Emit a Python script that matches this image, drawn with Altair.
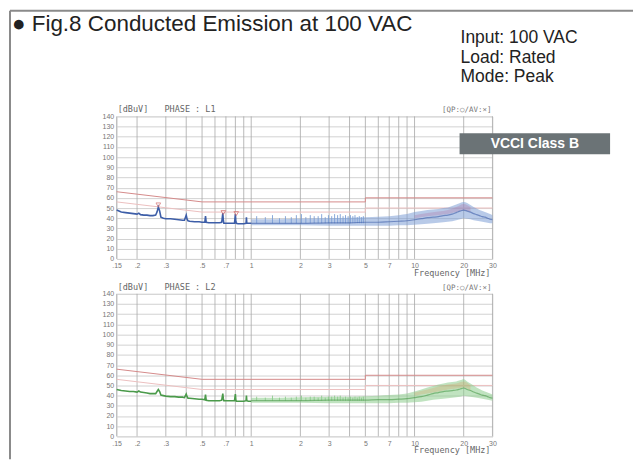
import altair as alt
import pandas as pd

# ---------------- data ----------------
grid_freqs = [0.15, 0.2, 0.3, 0.4, 0.5, 0.6, 0.7, 0.8, 0.9, 1, 2, 3, 4, 5, 6, 7, 8, 9, 10, 20, 30]
tick_freqs = [0.15, 0.2, 0.3, 0.5, 0.7, 1, 2, 3, 5, 7, 10, 20, 30]
level_ticks = [0, 10, 20, 30, 40, 50, 60, 70, 80, 90, 100, 110, 120, 130, 140]

qp_freq = [0.15, 0.5, 5, 5, 30]
qp_level = [66, 56, 56, 60, 60]
av_freq = [0.15, 0.5, 5, 5, 30]
av_level = [56, 46, 46, 50, 50]

trace_freq = [0.15, 0.155, 0.16, 0.17, 0.18, 0.19, 0.2, 0.205, 0.21, 0.22, 0.23, 0.24, 0.25,
              0.26, 0.265, 0.27, 0.275, 0.28, 0.29, 0.3, 0.32, 0.34, 0.36, 0.38, 0.39, 0.4,
              0.405, 0.41, 0.42, 0.45, 0.48, 0.5, 0.52, 0.525, 0.53, 0.55, 0.58, 0.61, 0.64,
              0.66, 0.67, 0.675, 0.68, 0.7, 0.73, 0.76, 0.79, 0.80, 0.805, 0.81, 0.83, 0.86,
              0.9, 0.93, 0.935, 0.94, 0.96, 1.0]
l1_level = [48, 47, 46, 45.5, 45, 44.5, 44, 45, 43.5, 43, 43, 42.5, 42.5,
            43, 46, 51, 47, 41, 40, 39.5, 39.5, 39, 38.5, 38, 38, 43,
            39, 37.5, 37, 36.5, 36.5, 36, 36, 42, 36, 35.5, 35.5, 35.5, 35.5,
            36, 45, 38, 35, 35, 35, 35, 35, 44, 37, 35, 34.5, 34.5,
            34.5, 35, 41, 35, 35, 35]
l2_level = [46, 45.5, 45, 44.5, 44, 44, 43.5, 44.5, 43.5, 43, 42.5, 42, 42,
            42, 44, 46, 44, 40.5, 40, 39.5, 39, 39, 38.5, 38.5, 38, 41.5,
            39, 37.5, 37.5, 37, 36.5, 36.5, 36, 41, 35.5, 35, 35, 35, 35,
            35.5, 42, 37, 35, 35, 35, 35, 35, 41.5, 36, 34.5, 34.5, 34.5,
            34.5, 35, 40, 35, 34.5, 34.5]

band_freq = [1, 1.5, 2, 3, 4, 5, 6, 7, 8, 9, 10, 11, 12, 13, 14, 15, 16, 17, 18, 19, 20,
             21, 22, 23, 24, 25, 26, 27, 28, 29, 30]
l1_low = [33, 33, 33, 32.5, 32.5, 32.5, 32.5, 32.5, 33, 33, 33.5, 34, 34.5, 35, 35.5, 36, 36.5, 37, 38, 39, 40,
          39.5, 39, 38, 37.5, 37, 36.5, 36, 35.5, 35, 35]
l1_high = [39, 39, 39.5, 40, 40.5, 41, 41.5, 42, 43, 44, 46, 47, 48, 48.5, 49, 50, 50.5, 52, 53.5, 55, 56,
           55, 53, 51, 49.5, 48, 47, 46, 45, 44, 43]
l1_mid = [35, 35, 35, 35.5, 35.5, 36, 36, 36.5, 37, 37.5, 38.5, 39.5, 40.5, 41, 41.5, 42.5, 43, 44, 45.5, 47, 48,
          47, 46, 44.5, 43.5, 42.5, 41.5, 41, 40, 39, 38.5]
l2_low = [33, 33, 33, 32.5, 32.5, 32.5, 32.5, 32.5, 33, 33, 33.5, 34, 35, 36, 36.5, 37, 37.5, 38, 38.5, 39, 40,
          39.5, 39, 38.5, 38, 37.5, 37, 36.5, 36, 35.5, 35]
l2_high = [38, 38, 38.5, 39, 39, 39.5, 40, 40.5, 41, 42, 44, 46, 48, 49.5, 51, 52, 53, 53.5, 54, 55, 56,
           54, 52, 50, 48, 46.5, 45, 44, 43, 42, 41]
l2_mid = [35, 35, 35, 35.5, 35.5, 35.5, 36, 36, 36.5, 37, 38, 39, 40.5, 42, 43, 44, 44.5, 45, 45.5, 46.5, 47.5,
          46, 45, 43.5, 42.5, 41.5, 40.5, 40, 39, 38, 37.5]

spike_freq = [1.08, 1.22, 1.35, 1.49, 1.62, 1.76, 1.89, 2.03, 2.16, 2.3, 2.43, 2.57, 2.7, 2.84, 2.97,
              3.11, 3.24, 3.38, 3.51, 3.65, 3.78, 3.92, 4.05, 4.19, 4.32, 4.46, 4.59, 4.73, 4.86]
l1_spike_top = [42, 41, 43, 40, 42, 41, 43, 44, 41, 43, 42, 42, 44, 41, 43,
                42, 44, 43, 44, 42, 43, 42, 43, 42, 43, 41, 42, 41, 42]
l2_spike_top = [39, 38, 40, 38, 39, 38, 39, 40, 38, 39, 39, 38, 40, 38, 39,
                39, 40, 39, 40, 38, 39, 38, 39, 38, 39, 38, 39, 38, 39]

l1_mark_freq = [0.27, 0.675, 0.81]
l1_mark_level = [53, 45.5, 44.5]

qp_band_freq = [10, 12, 14, 16, 18, 20, 22]
l1_qp_low = [40, 42, 43, 44, 46, 48, 46]
l1_qp_high = [43, 45, 46.5, 48, 51, 54, 51]
l2_qp_low = [40, 42, 44, 46, 47, 48, 45]
l2_qp_high = [43, 46, 49, 51, 52, 54, 50]

# ---------------- helpers ----------------
W, H = 377, 143
XS = alt.Scale(type="log", domain=[0.15, 30], nice=False)
YS = alt.Scale(domain=[0, 140], nice=False)
FONT = "Liberation Sans"
MONO = "DejaVu Sans Mono"

x_axis = alt.Axis(values=tick_freqs, grid=False, ticks=False, domain=False,
                  labelExpr="datum.value < 1 ? replace('' + datum.value, '0.', '.') : '' + datum.value",
                  labelFontSize=7, labelColor="#777", labelPadding=3, labelFont=FONT,
                  labelFlush=False, labelOverlap=False, title=None)
y_axis = alt.Axis(values=level_ticks, grid=True, gridColor="#d2d2d2", ticks=False, domain=False,
                  labelFontSize=7, labelColor="#777", labelPadding=3, labelFont=FONT, title=None)


def X(field):
    return alt.X(field, type="quantitative", scale=XS, axis=x_axis)


def Y(field):
    return alt.Y(field, type="quantitative", scale=YS, axis=y_axis)


def text_layer(txt, x, y, size, color="#555", font=FONT, align="left", weight="normal", baseline="alphabetic"):
    return alt.Chart(pd.DataFrame({"t": [txt]})).mark_text(
        align=align, baseline=baseline, fontSize=size, font=font, color=color, fontWeight=weight
    ).encode(x=alt.value(x), y=alt.value(y), text="t:N")


def panel(trace_v, low, high, mid, spike_top, qp_low, qp_high, marks, line_c, fill_c, qp_c, phase, extra):
    grid = alt.Chart(pd.DataFrame({"f": grid_freqs})).mark_rule(color="#a8a8a8", strokeWidth=0.8).encode(
        x=X("f")
    )
    ygrid = alt.Chart(pd.DataFrame({"v": level_ticks})).mark_rule(opacity=0).encode(y=Y("v"))
    qp = alt.Chart(pd.DataFrame({"f": qp_freq, "v": qp_level})).mark_line(color="#d58b8b", strokeWidth=1).encode(
        x=X("f"), y=Y("v")
    )
    av = alt.Chart(pd.DataFrame({"f": av_freq, "v": av_level})).mark_line(color="#ecc0c0", strokeWidth=1).encode(
        x=X("f"), y=Y("v")
    )
    band = alt.Chart(pd.DataFrame({"f": band_freq, "lo": low, "hi": high})).mark_area(
        color=fill_c, opacity=0.55, interpolate="monotone"
    ).encode(x=X("f"), y=Y("lo"), y2="hi:Q")
    qpband = alt.Chart(pd.DataFrame({"f": qp_band_freq, "lo": qp_low, "hi": qp_high})).mark_area(
        color=qp_c, opacity=0.35, interpolate="monotone"
    ).encode(x=X("f"), y=Y("lo"), y2="hi:Q")
    midl = alt.Chart(pd.DataFrame({"f": band_freq, "v": mid})).mark_line(
        color=line_c, strokeWidth=1.2, opacity=0.6, interpolate="monotone"
    ).encode(x=X("f"), y=Y("v"))
    spikes = alt.Chart(pd.DataFrame({"f": spike_freq, "v": spike_top})).mark_rule(
        color=fill_c, strokeWidth=1, opacity=0.9
    ).encode(x=X("f"), y=Y("v"), y2=alt.datum(35))
    trace = alt.Chart(pd.DataFrame({"f": trace_freq, "v": trace_v})).mark_line(
        color=line_c, strokeWidth=1.6
    ).encode(x=X("f"), y=Y("v"))
    layers = [grid, ygrid, qp, av, band, qpband, spikes, midl, trace]
    if marks is not None:
        layers.append(
            alt.Chart(pd.DataFrame({"f": marks[0], "v": marks[1]})).mark_point(
                shape="triangle-down", color="#d46a6a", size=22, filled=False, strokeWidth=1
            ).encode(x=X("f"), y=Y("v"))
        )
    layers += [
        text_layer("[dBuV]", 1, -4, 8.5, font=MONO, color="#666"),
        text_layer("PHASE : " + phase, 48, -4, 8.5, font=MONO, color="#666"),
        text_layer("[QP:○/AV:×]", 376, -4, 7.5, font=MONO, color="#777", align="right"),
        text_layer("Frequency [MHz]", 375, 160, 8.5, font=MONO, color="#666", align="right"),
    ]
    layers += extra
    return alt.layer(*layers).properties(width=W, height=H)


header = [
    alt.Chart(pd.DataFrame({"a": [0]})).mark_rule(color="#8a8a8a", strokeWidth=2).encode(
        x=alt.value(-107), y=alt.value(-106), y2=alt.value(344)
    ),
    alt.Chart(pd.DataFrame({"a": [0]})).mark_rule(color="#8a8a8a", strokeWidth=2).encode(
        x=alt.value(-107), x2=alt.value(518), y=alt.value(-106)
    ),
    text_layer("● Fig.8  Conducted Emission at 100 VAC", -105, -86, 22.5, color="#222"),
    text_layer("Input: 100 VAC", 345, -74, 17.5, color="#222"),
    text_layer("Load: Rated", 345, -54, 17.5, color="#222"),
    text_layer("Mode: Peak", 345, -34, 17.5, color="#222"),
    alt.Chart(pd.DataFrame({"a": [0]})).mark_rect(color="#6b7376").encode(
        x=alt.value(344), x2=alt.value(495), y=alt.value(17), y2=alt.value(38)
    ),
    text_layer("VCCI Class B", 419.5, 28, 14, color="white", align="center", weight="bold", baseline="middle"),
]

top = panel(l1_level, l1_low, l1_high, l1_mid, l1_spike_top, l1_qp_low, l1_qp_high,
            (l1_mark_freq, l1_mark_level), "#3d5ea8", "#7d9fd6", "#b07aa8", "L1", header)
bottom = panel(l2_level, l2_low, l2_high, l2_mid, l2_spike_top, l2_qp_low, l2_qp_high,
               None, "#4a9a4a", "#8dcc8d", "#d0aa70", "L2", [])

chart = alt.vconcat(top, bottom, spacing=35, bounds="flush").properties(padding=0).configure_view(
    stroke="#9a9a9a", strokeWidth=1
).configure(background="white")

chart.save("out.html", embed_options={"renderer": "svg", "actions": False})
